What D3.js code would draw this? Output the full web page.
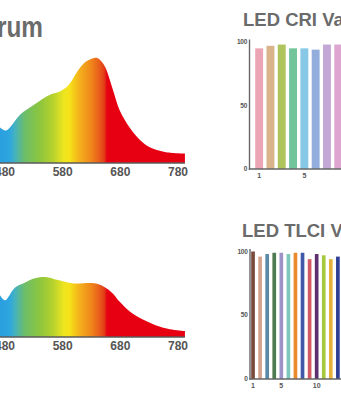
<!DOCTYPE html>
<html>
<head>
<meta charset="utf-8">
<script src="https://cdn.jsdelivr.net/npm/d3@7"></script>
<style>
html,body{margin:0;padding:0;background:#fff;overflow:hidden;}
svg{display:block;font-family:"Liberation Sans",Arial,sans-serif;}
</style>
</head>
<body>
<svg id="chart" width="341" height="400"></svg>
<script>
// ---------- DATA ----------
const wavelengthTicks = [480, 580, 680, 780];

const spectrumA_nm = [471, 482, 506, 529, 558, 575, 590, 604, 617, 629, 640, 652, 667, 679, 697, 714, 731, 757, 792];
const spectrumA_val = [0.34, 0.31, 0.46, 0.55, 0.65, 0.68, 0.74, 0.86, 0.95, 0.99, 1.0, 0.93, 0.70, 0.50, 0.33, 0.22, 0.15, 0.105, 0.09];

const spectrumB_nm = [471, 480, 497, 515, 532, 553, 570, 593, 607, 627, 641, 653, 666, 679, 697, 714, 740, 766, 792];
const spectrumB_val = [0.40, 0.35, 0.47, 0.52, 0.56, 0.57, 0.545, 0.515, 0.51, 0.515, 0.505, 0.475, 0.42, 0.335, 0.24, 0.18, 0.115, 0.075, 0.057];

const criCategories = [1, 2, 3, 4, 5, 6, 7, 8];
const criValues = [95, 97, 98, 95, 95, 94, 98, 98];
const criColors = ["#eba5b5", "#d9b38a", "#b0c45e", "#72c49a", "#87c8e6", "#93aedc", "#c3a8d6", "#dda5d0"];
const criXLabels = [1, 5];

const tlciCategories = [1, 2, 3, 4, 5, 6, 7, 8, 9, 10, 11, 12, 13];
const tlciValues = [100, 96, 98, 99, 99, 98, 99, 99, 94, 98, 97, 94, 96];
const tlciColors = ["#7a4a3c", "#d4a38e", "#5a8aa8", "#4e7a50", "#9c92c8", "#7ec7bb", "#e98a2c", "#3f58a8", "#d45b66", "#5c2f6e", "#a6c83c", "#e6b23a", "#2f3f94"];
const tlciXLabels = [1, 5, 10];

const valueTicks = [0, 50, 100];

// spectral colour stops (wavelength -> colour)
const gradStops_nm = [471, 488, 497, 514, 540, 563, 582, 592, 608, 628, 642, 652, 657, 800];
const gradStops_col = ["#2a9fe0", "#2ea6de", "#44b2c0", "#6dbd6a", "#8cc63e", "#b5d22e", "#ede51f", "#f6e21a", "#f4b31b", "#f08a1b", "#e9621b", "#e33d18", "#e60012", "#e60012"];

// ---------- DRAW ----------
const svg = d3.select("#chart");
const x = d3.scaleLinear().domain([480, 780]).range([5, 178]);

const defs = svg.append("defs");
const grad = defs.append("linearGradient")
  .attr("id", "spec").attr("gradientUnits", "userSpaceOnUse")
  .attr("x1", x(gradStops_nm[0])).attr("x2", x(gradStops_nm[gradStops_nm.length - 1]))
  .attr("y1", 0).attr("y2", 0);
const g0 = gradStops_nm[0], g1 = gradStops_nm[gradStops_nm.length - 1];
gradStops_nm.forEach((nm, i) => {
  grad.append("stop").attr("offset", (nm - g0) / (g1 - g0)).attr("stop-color", gradStops_col[i]);
});

// title (cut off at left)
svg.append("text")
  .attr("transform", "translate(43,37) scale(0.84,1)")
  .attr("text-anchor", "end")
  .attr("font-size", 29).attr("font-weight", "bold").attr("fill", "#6b6b6b")
  .text("LED Spectrum");

function spectrum(nm, vals, baseY) {
  const y = d3.scaleLinear().domain([0, 1]).range([baseY, baseY - 105]);
  const pts = nm.map((w, i) => [w, vals[i]]);
  const area = d3.area().x(d => x(d[0])).y0(baseY).y1(d => y(d[1])).curve(d3.curveCatmullRom.alpha(0.5));
  svg.append("path").datum(pts).attr("d", area).attr("fill", "url(#spec)");
  svg.append("line").attr("x1", 0).attr("x2", x(792)).attr("y1", baseY).attr("y2", baseY)
    .attr("stroke", "#5a5a5a").attr("stroke-width", 1.6);
  svg.selectAll(null).data(wavelengthTicks).enter().append("text")
    .attr("x", d => x(d)).attr("y", baseY + 12.5)
    .attr("text-anchor", "middle").attr("font-size", 12).attr("font-weight", "bold")
    .attr("fill", "#555").text(d => d);
}
spectrum(spectrumA_nm, spectrumA_val, 163);
spectrum(spectrumB_nm, spectrumB_val, 337);

function barChart(opts) {
  const { title, titleX, titleY, axisX, y0, y100, cats, vals, cols, labels, step, startX, pad } = opts;
  svg.append("text").attr("x", titleX).attr("y", titleY)
    .attr("font-size", 18.5).attr("font-weight", "bold").attr("fill", "#6b6b6b").text(title);
  const y = d3.scaleLinear().domain([0, 100]).range([y0, y100]);
  const xb = d3.scaleBand().domain(cats).range([startX, startX + cats.length * step]).paddingInner(pad).paddingOuter(pad / 2);
  svg.selectAll(null).data(vals).enter().append("rect")
    .attr("x", (d, i) => xb(cats[i])).attr("width", xb.bandwidth())
    .attr("y", d => y(d)).attr("height", d => y0 - y(d))
    .attr("fill", (d, i) => cols[i]);
  svg.append("line").attr("x1", axisX).attr("x2", axisX).attr("y1", y(100) - 2.5).attr("y2", y0 + 0.7)
    .attr("stroke", "#666").attr("stroke-width", 1.4);
  svg.append("line").attr("x1", axisX - 0.7).attr("x2", 341).attr("y1", y0).attr("y2", y0)
    .attr("stroke", "#666").attr("stroke-width", 1.4);
  svg.selectAll(null).data(valueTicks).enter().append("text")
    .attr("x", axisX - 2.5).attr("y", d => y(d) + 2.2)
    .attr("text-anchor", "end").attr("font-size", 6.5).attr("font-weight", "bold")
    .attr("letter-spacing", -0.3).attr("fill", "#555").text(d => d);
  svg.selectAll(null).data(labels).enter().append("text")
    .attr("x", d => xb(d) + xb.bandwidth() / 2).attr("y", y0 + 9)
    .attr("text-anchor", "middle").attr("font-size", 7).attr("font-weight", "bold")
    .attr("fill", "#555").text(d => d);
}

barChart({ title: "LED CRI Value", titleX: 243, titleY: 26, axisX: 249.5, y0: 169, y100: 42,
  cats: criCategories, vals: criValues, cols: criColors, labels: criXLabels,
  step: 11.3, startX: 253.5, pad: 0.3 });

barChart({ title: "LED TLCI Value", titleX: 242, titleY: 237, axisX: 250, y0: 379, y100: 251.5,
  cats: tlciCategories, vals: tlciValues, cols: tlciColors, labels: tlciXLabels,
  step: 7.07, startX: 249.5, pad: 0.48 });
</script>
</body>
</html>
